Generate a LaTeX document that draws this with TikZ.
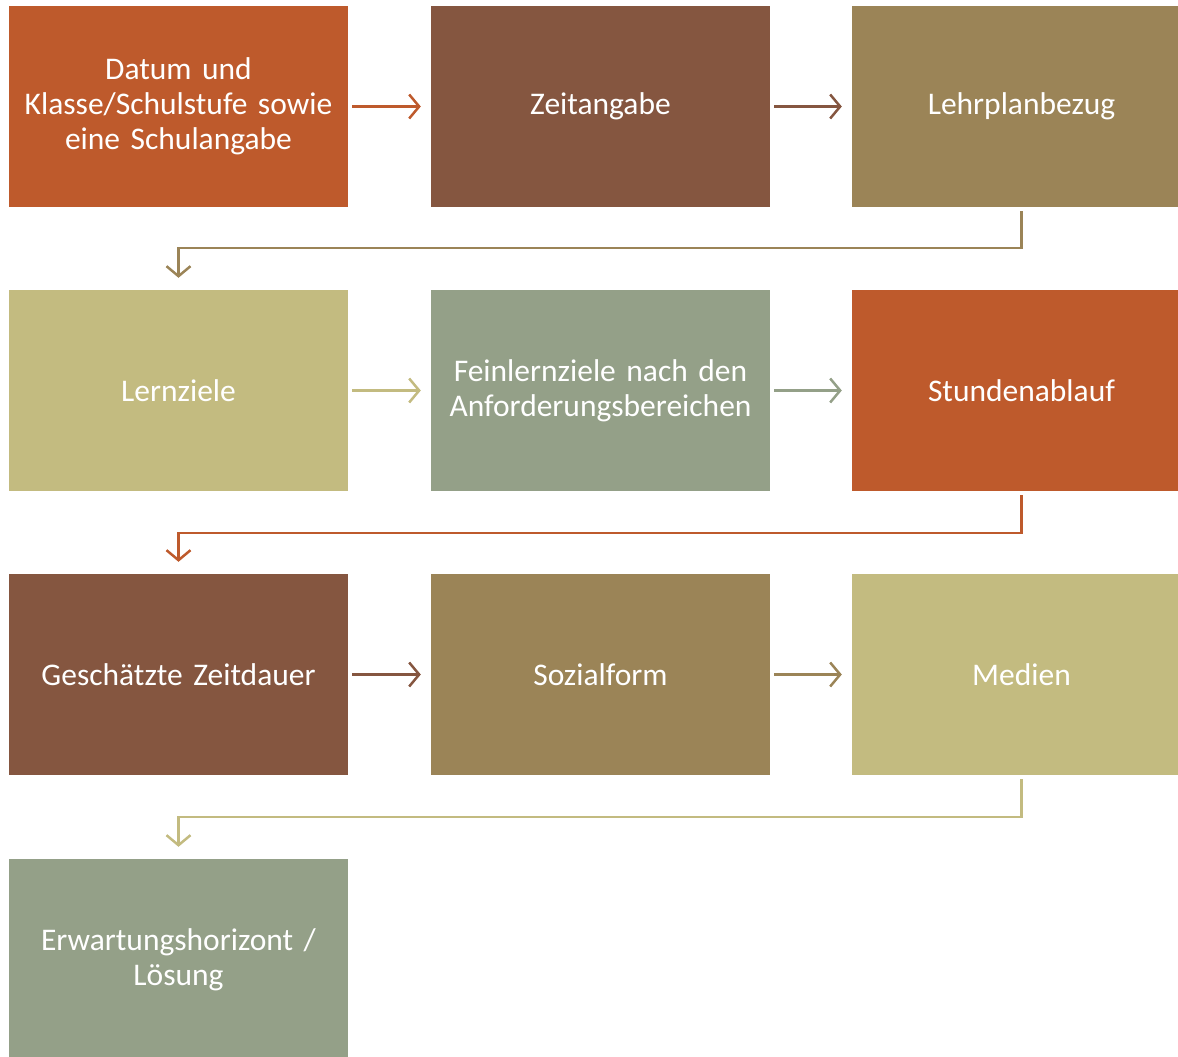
\documentclass[tikz,border=0pt]{standalone}
\usepackage{fontspec}
\setmainfont{Carlito}
\usetikzlibrary{arrows.meta}
\definecolor{cOrange}{HTML}{BE5A2C}
\definecolor{cBrown}{HTML}{855640}
\definecolor{cTan}{HTML}{9B8457}
\definecolor{cKhaki}{HTML}{C3BB80}
\definecolor{cSage}{HTML}{94A088}
\tikzset{
  box/.style={rectangle, minimum width=339pt, minimum height=201pt, inner sep=0pt,
    text width=335pt, align=center, text=white,
    font=\fontsize{31.5}{35}\selectfont},
  arr/.style={line width=2.5pt, -{Straight Barb[length=10pt,width=24pt,line width=2.5pt]}},
  harr/.style={arr, shorten <=4pt, shorten >=10pt},
  varr/.style={arr, shorten <=4pt, shorten >=12pt}
}
\begin{document}
\begin{tikzpicture}[x=1pt,y=-1pt]
  \useasboundingbox (0,0) rectangle (1178,1057);
  % first row
  \node[box, fill=cOrange] (datum) at (178.5,106.5) {Datum und\\Klasse/Schulstufe sowie\\eine Schulangabe};
  \node[box, fill=cBrown] (zeit) at (600.5,106.5) {Zeitangabe};
  \node[box, fill=cTan] (lehrplan) at (1021.5,106.5) {Lehrplanbezug};
  % second row
  \node[box, fill=cKhaki] (lernziele) at (178.5,390.5) {Lernziele};
  \node[box, fill=cSage] (feinziele) at (600.5,390.5) {Feinlernziele nach den\\Anforderungsbereichen};
  \node[box, fill=cOrange] (ablauf) at (1021.5,390.5) {Stundenablauf};
  % third row
  \node[box, fill=cBrown] (dauer) at (178.5,674.5) {Geschätzte Zeitdauer};
  \node[box, fill=cTan] (sozial) at (600.5,674.5) {Sozialform};
  \node[box, fill=cKhaki] (medien) at (1021.5,674.5) {Medien};
  % last row
  \node[box, fill=cSage] (loesung) at (178.5,959.5) {Erwartungshorizont /\\Lösung};

  \draw[harr, cOrange] (datum) -- (zeit);
  \draw[harr, cBrown] (zeit) -- (lehrplan);
  \draw[varr, cTan] (lehrplan.south) -- ++(0,41) -| (lernziele.north);
  \draw[harr, cKhaki] (lernziele) -- (feinziele);
  \draw[harr, cSage] (feinziele) -- (ablauf);
  \draw[varr, cOrange] (ablauf.south) -- ++(0,42) -| (dauer.north);
  \draw[harr, cBrown] (dauer) -- (sozial);
  \draw[harr, cTan] (sozial) -- (medien);
  \draw[varr, cKhaki] (medien.south) -- ++(0,42) -| (loesung.north);
\end{tikzpicture}
\end{document}
